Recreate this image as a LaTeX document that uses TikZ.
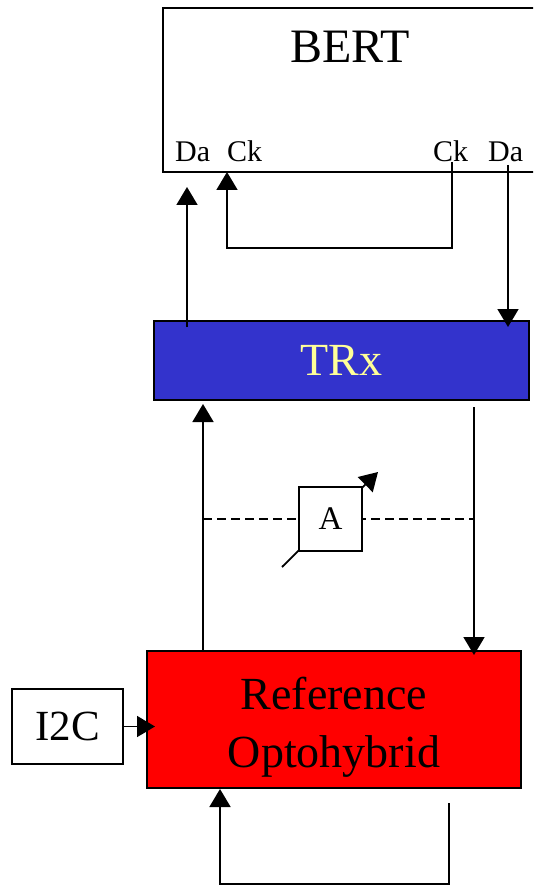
\documentclass[tikz,border=0pt]{standalone}
\usepackage{fontspec}
\setmainfont{Liberation Serif}
\usetikzlibrary{arrows.meta}
\definecolor{trxblue}{HTML}{3333CC}
\definecolor{trxtext}{HTML}{FFFF99}
\begin{document}
\begin{tikzpicture}[x=1pt,y=-1pt,
  box/.style={draw=black, line width=1.8pt, inner sep=0pt, outer sep=0pt},
  arr/.style={-{Triangle[length=18pt,width=21pt]}, line width=1.8pt},
  lbl/.style={anchor=base west, inner sep=0pt, font=\fontsize{30}{34}\selectfont},
  big/.style={font=\fontsize{46}{58}\selectfont}]
\clip (0,0) rectangle (533,885);
% BERT
\node[box, fill=white, minimum width=382pt, minimum height=164pt, anchor=north west] (bert) at (163,8) {};
\node[anchor=base, inner sep=0pt, font=\fontsize{48}{58}\selectfont] (berttext) at (350,63) {BERT};
\node[lbl] (daL) at (175,162) {Da};
\node[lbl] (ckL) at (227,162) {Ck};
\node[lbl] (ckR) at (433,162) {Ck};
\node[lbl] (daR) at (488,162) {Da};
% TRx
\node[box, fill=trxblue, text=trxtext, big, minimum width=375pt, minimum height=79pt, anchor=north west] (trx) at (154,321) {TRx};
% Reference Optohybrid
\node[box, fill=red, minimum width=374pt, minimum height=137pt, anchor=north west] (ro) at (147,651) {};
\node[big, align=center, inner sep=0pt] (rotext) at (334,727.5) {Reference\\Optohybrid};
% I2C
\node[box, fill=white, minimum width=111pt, minimum height=75pt, anchor=north west, font=\fontsize{43}{50}\selectfont] (i2c) at (12,689) {I2C};
% ports
\coordinate (pDaLs) at (187,327);
\coordinate (pDaLt) at (187,187);
\coordinate (pCkRs) at (452,162);
\coordinate (pCkLt) at (227,172);
\coordinate (pDaRs) at (508,165);
\coordinate (pDaRt) at (508,327);
\coordinate (pUpS) at (203,651);
\coordinate (pUpT) at (203,404);
\coordinate (pDnS) at (474,407);
\coordinate (pDnT) at (474,655);
\coordinate (pDashL) at (203,519);
\coordinate (pDashR) at (475,519);
\coordinate (pAttS) at (282,567);
\coordinate (pAttT) at (378,472);
\coordinate (pI2Ct) at (155,726.5);
\coordinate (pLoopS) at (449,803);
\coordinate (pLoopT) at (220,789);
% connectors
\draw[arr] (pDaLs) -- (pDaLt);
\draw[arr] (pCkRs) -- (452,248) -| (pCkLt);
\draw[arr] (pDaRs) -- (pDaRt);
\draw[arr] (pUpS) -- (pUpT);
\draw[arr] (pDnS) -- (pDnT);
\draw[line width=1.6pt, dash pattern=on 9pt off 5pt] (pDashL) -- (pDashR);
\draw[arr] (pAttS) -- (pAttT);
\node[box, fill=white, minimum width=63pt, minimum height=64pt, font=\fontsize{33}{40}\selectfont] (att) at (330.5,519) {A};
\draw[arr] (i2c.east) -- (pI2Ct);
\draw[arr] (pLoopS) -- (449,884) -| (pLoopT);
\end{tikzpicture}
\end{document}
